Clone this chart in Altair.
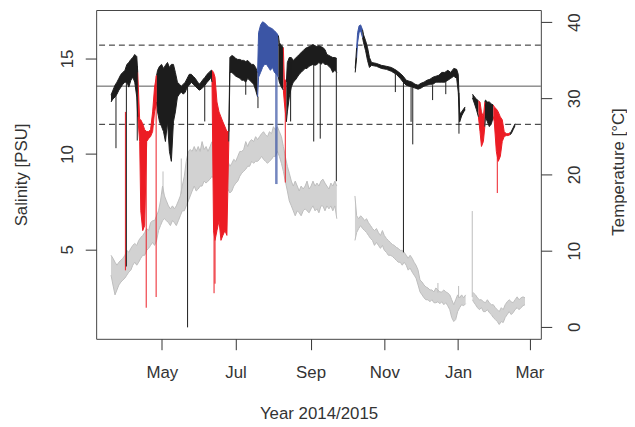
import altair as alt
import pandas as pd

# x = days since 2014-05-01
tick_days = [0, 61, 123, 184, 245, 304]
tick_labels = ["May", "Jul", "Sep", "Nov", "Jan", "Mar"]

# ---------------- Salinity (PSU): range (lo..hi) within each short interval ----------------
sal_day = [
    -42.0, -40.4, -38.7, -37.1, -35.5, -33.8, -32.2, -30.5, -28.9, -27.3, -25.6, -24.0, -22.4, -20.7, -19.9,
    -18.3, -17.4, -15.8, -14.2, -12.5, -10.9, -9.3, -7.6, -6.0, -4.3,
    -3.5, -1.9, -0.2, 1.4, 3.0, 4.7, 6.3, 7.9, 9.6, 11.2, 12.9, 14.5, 16.1, 17.8, 19.4, 21.0, 22.7, 24.3, 25.9,
    27.6, 29.2, 30.9, 32.5, 34.2, 35.8, 37.4, 39.1, 40.7, 41.5,
    42.8, 44.0, 45.6, 47.3, 48.9, 50.5, 52.2, 53.8, 55.4,
    56.3, 57.9, 59.5, 61.2, 62.8, 64.5, 66.1, 67.7, 69.4, 71.0, 72.6, 74.3, 75.9, 77.6, 79.2,
    80.0, 81.7, 83.3, 84.9, 86.6, 88.2, 89.8, 91.5, 93.1, 94.8, 96.4,
    97.2, 98.9, 100.5,
    101.3, 103.0,
    103.8, 105.4, 107.1, 108.7, 110.3, 112.0, 113.6, 115.2, 116.9, 118.5, 120.1, 121.8, 123.4, 125.0, 126.7,
    128.3, 129.9, 131.6, 133.2, 134.9, 136.5, 138.2, 139.8, 141.4, 143.1, 144.7,
    None,
    159.9, 161.1,
    161.9, 163.1, 164.4, 166.0,
    166.8, 168.5, 170.1, 171.7, 173.4, 177.5, 181.6, 185.7, 189.8, 193.9, 197.1, 199.6, 202.1, 204.5, 207.0,
    209.4, 211.9, 214.3, 216.8, 219.2, 221.7, 224.2, 226.6, 229.1, 231.5, 234.0, 236.5, 238.9, 241.4, 243.8,
    245.1, 246.3, 247.9, 249.6, 250.8,
    None,
    256.9, 258.6, 260.2, 261.8,
    263.1, 264.3, 265.9, 267.1,
    267.6, 269.2, 270.8, 272.5, 274.1,
    274.9, 276.6, 278.2, 279.9, 281.5, 283.1, 284.8, 286.4, 288.0,
    288.9, 290.5, 292.1,
]
sal_lo = [
    12.72, 12.88, 12.98, 13.13, 13.34, 13.50, 13.65, 13.76, 13.76, 13.50, 13.86, 14.02, 13.76, 12.98, 11.94,
    10.65, 7.02, 5.98, 6.24, 10.65, 10.80, 10.91, 11.17, 12.20, 12.72,
    12.20, 11.68, 11.43, 11.17, 10.65, 11.68, 10.13, 9.61, 11.68, 12.20, 12.98, 13.13, 13.24, 13.13, 13.24,
    13.50, 13.60, 13.76, 13.65, 13.55, 13.45, 13.34, 13.39, 13.50, 13.60, 13.76, 13.86, 14.02, 13.76,
    5.98, 5.47, 5.98, 6.50, 5.47, 5.73, 5.98, 5.73, 10.65,
    14.27, 14.27, 14.17, 14.07, 14.02, 13.96, 13.86, 13.86, 13.76, 13.96, 13.86, 13.76, 13.65, 13.34, 12.98,
    14.02, 14.27, 14.53, 14.69, 14.69, 14.53, 14.38, 14.53, 14.27, 14.17, 14.02,
    13.76, 13.50, 13.34,
    12.72, 11.68,
    12.20, 12.98, 13.50, 13.76, 13.86, 14.02, 14.17, 14.27, 14.38, 14.48, 14.48, 14.59, 14.64, 14.69, 14.64,
    14.69, 14.79, 14.69, 14.79, 14.69, 14.69, 14.59, 14.48, 14.27, 14.38, 14.27,
    None,
    14.27, 15.05,
    15.83, 16.35, 16.45, 16.09,
    15.83, 15.41, 14.90, 14.53, 14.64, 14.59, 14.48, 14.43, 14.33, 14.17, 13.96, 13.76, 13.60, 13.55, 13.50,
    13.45, 13.39, 13.45, 13.55, 13.60, 13.65, 13.65, 13.76, 13.76, 13.76, 13.76, 13.86, 13.96, 14.07, 13.96,
    13.24, 11.68, 11.99, 12.20, 12.31,
    None,
    12.93, 12.62, 12.31, 11.94,
    11.17, 10.39, 10.65, 11.43,
    11.94, 11.68, 11.43, 11.58, 11.94,
    11.68, 10.13, 9.61, 9.87, 10.65, 10.91, 10.96, 10.96, 11.01,
    11.06, 11.27, 11.48,
]
sal_hi = [
    13.08, 13.34, 13.60, 13.76, 13.96, 14.17, 14.27, 14.38, 14.69, 14.79, 14.95, 15.05, 15.21, 15.10, 14.27,
    11.79, 11.79, 11.58, 11.27, 11.17, 11.17, 11.27, 12.20, 13.50, 14.12,
    14.38, 14.59, 14.69, 14.48, 14.64, 14.79, 14.53, 14.69, 14.69, 14.27, 13.76, 13.65, 13.55, 13.65, 13.76,
    13.96, 14.17, 14.17, 14.07, 13.96, 13.81, 13.65, 13.76, 13.91, 14.02, 14.17, 14.27, 14.38, 14.38,
    14.27, 14.02, 12.72, 12.20, 11.94, 11.68, 11.43, 11.17, 11.17,
    15.05, 15.16, 15.10, 15.00, 14.95, 14.95, 14.90, 14.90, 14.84, 14.90, 14.79, 14.69, 14.69, 14.53, 14.27,
    16.35, 16.76, 16.92, 16.87, 16.76, 16.66, 16.61, 16.55, 16.45, 16.35, 16.19,
    15.83, 15.67, 15.57,
    13.91, 13.76,
    14.79, 15.05, 15.05, 14.90, 15.00, 15.10, 15.21, 15.31, 15.41, 15.52, 15.57, 15.62, 15.67, 15.73, 15.67,
    15.62, 15.67, 15.62, 15.57, 15.47, 15.21, 15.16, 15.10, 15.05, 15.05, 15.00,
    None,
    14.48, 15.57,
    16.35, 16.71, 16.76, 16.50,
    16.24, 15.93, 15.57, 15.05, 14.79, 14.74, 14.64, 14.59, 14.53, 14.38, 14.22, 14.07, 13.86, 13.81, 13.76,
    13.65, 13.60, 13.70, 13.76, 13.86, 13.91, 14.02, 14.07, 14.12, 14.27, 14.27, 14.38, 14.27, 14.48, 14.43,
    14.17, 12.10, 12.20, 12.36, 12.46,
    None,
    13.13, 12.98, 12.88, 12.77,
    12.72, 12.20, 11.94, 12.72,
    12.82, 12.72, 12.72, 12.62, 12.56,
    12.46, 12.36, 12.20, 11.94, 11.79, 11.17, 11.06, 11.06, 11.11,
    11.17, 11.37, 11.58,
]
# colour class of each run of points: k = normal, r = low salinity, b = high salinity
sal_runs = [("k", 15), ("r", 10), ("k", 29), ("r", 9), ("k", 15), ("b", 11), ("k", 3), ("r", 2),
            ("k", 26), ("gap", 1), ("k", 2), ("b", 4), ("k", 35), ("gap", 1), ("k", 4), ("r", 4),
            ("k", 5), ("r", 9), ("k", 3)]

# short, sharp salinity drops
sal_spk_day = [-37.9, -30.1, -29.3, -20.3, -12.9, -4.7, 21.3, 35.5, 43.2, 44.0, 69.4, 79.5, 94.3, 95.2,
               102.1, 106.5, 125.6, 131.0, 144.3, 193.1, 199.8, 206.1, 207.5, 223.9, 234.8, 245.7, 277.4]
sal_spk_top = [13.6, 12.2, 13.8, 14.6, 10.8, 14.1, 13.6, 13.6, 6.0, 5.5, 13.8, 13.0, 14.2, 14.2,
               13.9, 14.8, 14.7, 14.7, 14.3, 14.2, 13.8, 13.5, 13.5, 13.6, 13.8, 13.2, 10.1]
sal_spk_bot = [10.3, 3.9, 4.1, 10.7, 1.94, 2.5, 0.91, 11.7, 2.7, 3.2, 13.1, 12.4, 8.42, 8.42,
               8.5, 11.7, 10.65, 10.8, 8.57, 13.24, 4.84, 11.68, 10.5, 12.82, 13.13, 11.06, 7.95]
sal_spk_col = ["k", "r", "k", "k", "r", "r", "k", "k", "r", "r", "k", "k", "b", "b",
               "r", "k", "k", "k", "k", "k", "k", "k", "k", "k", "k", "k", "r"]

# reference salinity levels
ref_dashed = [15.7, 11.55]
ref_solid = [13.55]

# ---------------- Temperature (°C) ----------------
tmp_day = [
    -42.0, -40.4, -38.7, -37.1, -35.5, -33.8, -32.2, -30.5, -28.9, -27.3,
    -25.6, -24.0, -22.4, -20.7, -19.1, -17.4, -15.8, -14.2, -12.5, -10.9,
    -9.3, -7.6, -6.0, -4.3, -2.7, -1.1, 0.6, 2.2, 3.8, 5.5,
    7.1, 8.8, 10.4, 12.0, 13.7, 15.3, 16.9, 18.6, 20.2, 21.9,
    23.5, 25.1, 26.8, 28.4, 30.1, 31.7, 33.3, 35.0, 36.6, 38.2,
    39.9, 41.5, 43.2, 44.8, 46.4, 48.1, 49.7, 51.3, 53.0, 54.6,
    56.3, 57.9, 59.5, 61.2, 62.8, 64.5, 66.1, 67.7, 69.4, 71.0,
    72.6, 74.3, 75.9, 77.6, 79.2, 80.8, 82.5, 84.1, 85.7, 87.4,
    89.0, 90.7, 92.3, 93.9, 95.6, 97.2, 98.9, 100.5, 102.1, 103.8,
    105.4, 107.1, 108.7, 110.3, 112.0, 113.6, 115.2, 116.9, 118.5, 120.1,
    121.8, 123.4, 125.0, 126.7, 128.3, 129.9, 131.6, 133.2, 134.9, 136.5,
    138.2, 139.8, 141.4, 143.1, 144.7,
    None,
    159.7,
    161.1, 162.8, 164.4, 166.0, 167.7, 169.3, 170.9, 172.6, 174.2, 175.8,
    177.5, 179.1, 180.8, 182.4, 184.0, 185.7, 187.3, 188.9, 190.6, 192.2,
    193.9, 195.5, 197.1, 198.8, 200.4, 202.1, 203.7, 205.3, 207.0, 208.6,
    210.2, 211.9, 213.5, 215.2, 216.8, 218.4, 220.1, 221.7, 223.3, 225.0,
    226.6, 228.3, 229.9, 231.5, 233.2, 234.8, 236.4, 238.1, 239.7, 241.4,
    243.0, 244.6, 246.3, 247.9, 249.6, 251.2,
    None,
    256.9, 257.7, 259.4, 261.0, 262.6, 264.3, 265.9, 267.6, 269.2, 270.8,
    272.5, 274.1, 275.8, 277.4, 279.0, 280.7, 282.3, 283.9, 285.6, 287.2,
    288.9, 290.5, 292.1, 293.8, 295.4, 297.0, 298.7, 300.3,
]
tmp_lo = [
    6.79, 5.49, 4.19, 4.84, 5.49, 5.88, 6.14, 6.40, 6.79, 7.18,
    7.44, 8.09, 8.48, 8.09, 8.48, 9.00, 9.39, 9.39, 10.04, 10.30,
    10.69, 11.08, 10.69, 11.34, 12.64, 13.29, 13.94, 14.19, 13.94, 13.67,
    13.29, 13.94, 13.67, 13.29, 13.94, 14.58, 15.23, 15.23, 15.88, 16.53,
    17.18, 17.83, 18.48, 17.83, 18.09, 18.48, 18.48, 19.13, 18.87, 19.13,
    19.39, 19.78, 19.39, 19.13, 19.78, 18.87, 18.48, 19.39, 18.48, 18.09,
    17.57, 17.83, 18.48, 18.87, 19.13, 19.78, 20.17, 20.43, 20.69, 21.08,
    21.08, 21.73, 21.47, 21.73, 21.73, 21.99, 22.38, 21.99, 21.73, 21.47,
    21.73, 21.99, 22.38, 22.38, 23.03, 22.38, 21.47, 20.43, 19.13, 17.83,
    16.53, 15.88, 15.23, 14.58, 15.23, 14.97, 14.58, 15.23, 15.49, 15.23,
    14.97, 15.49, 15.88, 15.23, 15.49, 14.97, 15.88, 15.88, 15.23, 15.88,
    15.49, 15.88, 15.23, 15.88, 14.19,
    None,
    11.34,
    12.38, 12.90, 13.29, 12.90, 12.64, 12.38, 11.99, 11.60, 11.34, 10.69,
    11.08, 10.69, 10.30, 10.69, 10.04, 9.78, 9.39, 9.39, 9.26, 9.00,
    8.74, 8.48, 8.48, 8.09, 8.48, 8.09, 7.44, 7.70, 7.18, 6.79,
    6.40, 5.49, 4.58, 4.19, 3.80, 3.55, 3.55, 3.29, 3.55, 3.16,
    3.16, 3.29, 3.03, 3.29, 2.90, 3.16, 2.77, 2.25, 1.21, 0.69,
    0.95, 1.99, 2.51, 2.90, 2.77, 3.03,
    None,
    3.55, 3.29, 2.90, 2.51, 2.25, 2.51, 1.99, 1.99, 2.25, 1.86,
    1.60, 1.21, 0.95, 0.69, 0.30, 0.69, 0.56, 1.21, 1.60, 1.99,
    1.60, 1.86, 2.25, 2.51, 2.25, 2.51, 2.77, 2.90,
]
tmp_hi = [
    9.39, 9.00, 8.48, 8.09, 8.48, 8.74, 9.00, 9.39, 10.04, 9.78,
    10.30, 10.69, 10.95, 10.69, 11.34, 11.73, 11.99, 12.38, 12.90, 12.64,
    13.67, 13.94, 13.94, 14.58, 15.23, 16.53, 18.48, 17.18, 16.53, 15.88,
    15.49, 15.88, 15.49, 15.88, 16.53, 17.18, 18.48, 19.78, 21.73, 23.03,
    23.28, 23.03, 23.67, 23.03, 23.67, 23.03, 24.32, 23.28, 23.67, 23.03,
    23.67, 24.32, 24.06, 23.67, 24.32, 23.67, 23.03, 23.28, 22.38, 21.73,
    21.08, 21.47, 21.99, 21.73, 22.38, 23.03, 23.03, 23.28, 24.32, 23.67,
    24.32, 24.58, 24.32, 24.97, 24.58, 24.97, 25.36, 25.62, 25.23, 24.97,
    25.62, 25.36, 26.27, 25.88, 26.27, 25.62, 24.97, 23.67, 22.38, 21.08,
    20.17, 19.13, 18.48, 19.13, 18.48, 17.83, 18.48, 18.09, 18.48, 19.13,
    18.09, 18.48, 19.13, 18.48, 18.87, 18.48, 19.13, 19.39, 18.87, 18.48,
    18.09, 18.87, 18.48, 19.13, 18.48,
    None,
    17.18,
    14.58, 14.19, 14.58, 14.32, 13.94, 14.19, 13.67, 13.29, 12.90, 12.64,
    12.90, 12.38, 11.99, 12.64, 11.99, 11.60, 11.34, 11.08, 10.82, 10.69,
    10.43, 10.30, 10.04, 10.04, 9.78, 9.39, 9.00, 9.39, 9.00, 8.48,
    8.09, 7.44, 6.14, 5.88, 5.49, 5.23, 5.10, 4.84, 4.84, 4.58,
    5.10, 4.84, 4.58, 4.58, 4.84, 4.58, 4.45, 4.19, 3.55, 2.90,
    3.55, 4.19, 3.80, 4.19, 3.80, 4.19,
    None,
    4.45, 4.45, 4.19, 3.80, 3.55, 3.55, 3.29, 3.16, 3.55, 3.16,
    2.90, 2.90, 2.51, 2.25, 1.99, 2.51, 2.25, 2.90, 3.29, 3.55,
    3.29, 3.16, 3.55, 3.93, 3.55, 3.80, 3.93, 3.80,
]
tmp_spk_day = [1.0, 16.1, 228.3, 245.4, 256.7]
tmp_spk_lo = [17.5, 17.5, 4.5, 3.8, 3.9]
tmp_spk_hi = [20.4, 22.1, 5.75, 5.36, 15.2]

# ---------------- build tables ----------------
def build(days, los, his, cols):
    rows, seg, prev = [], 0, None
    for d, lo, hi, c in zip(days, los, his, cols):
        if lo is None or c == "gap":
            seg += 1
            prev = None
            continue
        if prev is not None and c != prev[3]:
            seg += 1
            rows.append(dict(day=prev[0], lo=prev[1], hi=prev[2], col=c, seg=seg))
        rows.append(dict(day=d, lo=lo, hi=hi, col=c, seg=seg))
        prev = (d, lo, hi, c)
    return pd.DataFrame(rows)

sal_col = [c for c, n in sal_runs for _ in range(n)]
assert len(sal_day) == len(sal_lo) == len(sal_hi) == len(sal_col)
assert len(tmp_day) == len(tmp_lo) == len(tmp_hi)
sal_df = build(sal_day, sal_lo, sal_hi, sal_col)
tmp_df = build(tmp_day, tmp_lo, tmp_hi, ["g"] * len(tmp_day))
sal_spk = pd.DataFrame(dict(day=sal_spk_day, top=sal_spk_top, bot=sal_spk_bot, col=sal_spk_col))
tmp_spk = pd.DataFrame(dict(day=tmp_spk_day, lo=tmp_spk_lo, hi=tmp_spk_hi))

# ---------------- styling ----------------
FONT = "Liberation Sans"
TXT = "#333333"
GRAY = "#bdbdbd"
GRAY_FILL = "#d2d2d2"
COLS = alt.Scale(domain=["k", "r", "b"], range=["#1c1c1c", "#ec1c24", "#3b55a5"])

label_expr = " : ".join(f"datum.value == {d} ? '{l}'" for d, l in zip(tick_days, tick_labels)) + " : ''"
X = alt.X("day:Q", scale=alt.Scale(domain=[-54.3, 313.4], nice=False, zero=False),
          axis=alt.Axis(values=tick_days, labelExpr=label_expr, title="Year 2014/2015",
                        labelBaseline="alphabetic", labelPadding=28, labelAlign="center",
                        titleX=224.5, titleY=80, titleAlign="center", titleBaseline="alphabetic"))

S_SCALE = alt.Scale(domain=[0.31, 17.54], nice=False, zero=False)
T_SCALE = alt.Scale(domain=[-1.58, 41.6], nice=False, zero=False)
s_axis = alt.Axis(orient="left", values=[5, 10, 15], title="Salinity [PSU]",
                  labelAngle=270, labelAlign="center", labelBaseline="alphabetic", labelPadding=13,
                  titleAngle=270, titleAlign="center", titleBaseline="alphabetic", titleX=-70.5, titleY=166)
t_axis = alt.Axis(orient="right", values=[0, 10, 20, 30, 40], title="Temperature [°C]",
                  labelAngle=270, labelAlign="center", labelBaseline="top", labelPadding=15,
                  titleAngle=270, titleAlign="center", titleBaseline="alphabetic", titleX=83, titleY=163)

# temperature layers
t_area = alt.Chart(tmp_df).mark_area(color=GRAY_FILL, opacity=1).encode(
    x=X, y=alt.Y("lo:Q", scale=T_SCALE, axis=t_axis), y2="hi:Q", detail="seg:N")
t_lo = alt.Chart(tmp_df).mark_line(color=GRAY, strokeWidth=1).encode(
    x=X, y=alt.Y("lo:Q", scale=T_SCALE, axis=t_axis), detail="seg:N")
t_hi = alt.Chart(tmp_df).mark_line(color=GRAY, strokeWidth=1).encode(
    x=X, y=alt.Y("hi:Q", scale=T_SCALE, axis=t_axis), detail="seg:N")
t_spk = alt.Chart(tmp_spk).mark_rule(color=GRAY, strokeWidth=1).encode(
    x=X, y=alt.Y("lo:Q", scale=T_SCALE, axis=t_axis), y2="hi:Q")
temp = alt.layer(t_area, t_lo, t_hi, t_spk)

# salinity layers
ref_d = alt.Chart(pd.DataFrame(dict(v=ref_dashed))).mark_rule(
    color="#222222", strokeWidth=1, strokeDash=[6, 4]).encode(y=alt.Y("v:Q", scale=S_SCALE, axis=s_axis))
ref_s = alt.Chart(pd.DataFrame(dict(v=ref_solid))).mark_rule(
    color="#555555", strokeWidth=1).encode(y=alt.Y("v:Q", scale=S_SCALE, axis=s_axis))
s_area = alt.Chart(sal_df).mark_area(opacity=1).encode(
    x=X, y=alt.Y("lo:Q", scale=S_SCALE, axis=s_axis), y2="hi:Q",
    color=alt.Color("col:N", scale=COLS, legend=None), detail="seg:N")
s_lo = alt.Chart(sal_df).mark_line(strokeWidth=1).encode(
    x=X, y=alt.Y("lo:Q", scale=S_SCALE, axis=s_axis),
    color=alt.Color("col:N", scale=COLS, legend=None), detail="seg:N")
s_hi = alt.Chart(sal_df).mark_line(strokeWidth=1).encode(
    x=X, y=alt.Y("hi:Q", scale=S_SCALE, axis=s_axis),
    color=alt.Color("col:N", scale=COLS, legend=None), detail="seg:N")
s_spk = alt.Chart(sal_spk).mark_rule(strokeWidth=1).encode(
    x=X, y=alt.Y("top:Q", scale=S_SCALE, axis=s_axis), y2="bot:Q",
    color=alt.Color("col:N", scale=COLS, legend=None))
sal = alt.layer(ref_d, ref_s, s_area, s_lo, s_hi, s_spk)

chart = alt.layer(temp, sal).resolve_scale(y="independent").properties(
    width=449, height=332,
    autosize=alt.AutoSizeParams(type="none"),
    padding={"left": 89, "top": 0, "right": 87, "bottom": 87},
    background="white",
).configure_view(stroke="#444444", strokeWidth=1).configure_axis(
    domain=False, grid=False, ticks=True, tickSize=11, tickColor=TXT, tickWidth=1,
    labelFont=FONT, labelFontSize=17, labelColor=TXT,
    titleFont=FONT, titleFontSize=17, titleFontWeight="normal", titleColor=TXT,
)

chart.save("out.html", embed_options={"renderer": "svg", "actions": False})
